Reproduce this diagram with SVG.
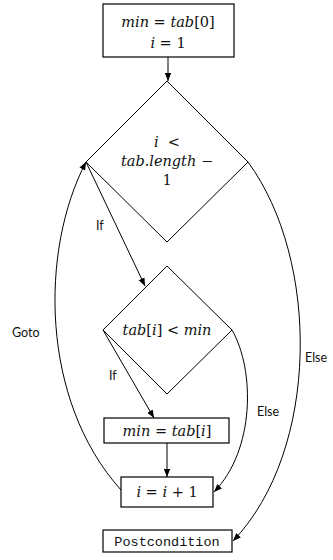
<svg xmlns="http://www.w3.org/2000/svg" width="333" height="560" viewBox="0 0 333 560">
<style>
.box{fill:#fff;stroke:#000;stroke-width:1.2}
.dia{fill:none;stroke:#000;stroke-width:1}
.m{font-family:"DejaVu Serif","Liberation Serif",serif;font-size:14.5px;fill:#111;text-anchor:middle}
.i{font-style:italic}
.lbl{font-family:Lato,"Open Sans",sans-serif;font-size:12.5px;fill:#111}
.mono{font-family:"Liberation Mono","DejaVu Sans Mono",monospace;font-size:13.5px;fill:#111;text-anchor:middle}
.e{fill:none;stroke:#000;stroke-width:1;marker-end:url(#ah)}
</style>
<defs>
<marker id="ah" viewBox="0 0 10 10" refX="10" refY="5" markerWidth="8" markerHeight="8" markerUnits="userSpaceOnUse" orient="auto">
<path d="M0,1 L10,5 L0,9 z" fill="#000"/>
</marker>
</defs>
<g id="connectors">
<path class="e" d="M168,57 L168,81"/>
<path class="e" d="M86,162 L145,286"/>
<path class="e" d="M103,330 L154,418"/>
<path class="e" d="M167,443 L167,477"/>
<path class="e" d="M121,490 C40,400 40,250 86,162"/>
<path class="e" d="M232,330 C255,370 255,450 214,492"/>
<path class="e" d="M248,162 C320,260 320,450 233,541"/>
<text class="lbl" x="96" y="230">If</text>
<text class="lbl" x="109" y="380">If</text>
<text class="lbl" x="12" y="337">Goto</text>
<text class="lbl" x="257" y="416">Else</text>
<text class="lbl" x="305" y="362">Else</text>
</g>
<g id="init">
<rect class="box" x="103" y="4" width="131" height="53"/>
<text class="m" x="168" y="27" xml:space="preserve"><tspan class="i">min</tspan> = <tspan class="i">tab</tspan>[0]</text>
<text class="m" x="168" y="48" xml:space="preserve"><tspan class="i">i</tspan> = 1</text>
</g>
<g id="cond1">
<path class="dia" d="M167,81 L248,162 L167,242 L86,162 Z"/>
<text class="m" x="167" y="147" xml:space="preserve"><tspan class="i">i</tspan>  &lt;</text>
<text class="m" x="167" y="166" xml:space="preserve"><tspan class="i">tab.length</tspan> −</text>
<text class="m" x="167" y="185">1</text>
</g>
<g id="cond2">
<path class="dia" d="M167,266 L232,330 L167,394 L103,330 Z"/>
<text class="m" x="167" y="335" xml:space="preserve"><tspan class="i">tab</tspan>[<tspan class="i">i</tspan>] &lt; <tspan class="i">min</tspan></text>
</g>
<g id="assign">
<rect class="box" x="104" y="418" width="125" height="25"/>
<text class="m" x="167" y="436" xml:space="preserve"><tspan class="i">min</tspan> = <tspan class="i">tab</tspan>[<tspan class="i">i</tspan>]</text>
</g>
<g id="incr">
<rect class="box" x="121" y="477" width="92" height="30"/>
<text class="m" x="167" y="497" xml:space="preserve"><tspan class="i">i</tspan> = <tspan class="i">i</tspan> + 1</text>
</g>
<g id="post">
<rect class="box" x="103" y="530" width="129" height="22"/>
<text class="mono" x="167" y="545.5">Postcondition</text>
</g>
</svg>
